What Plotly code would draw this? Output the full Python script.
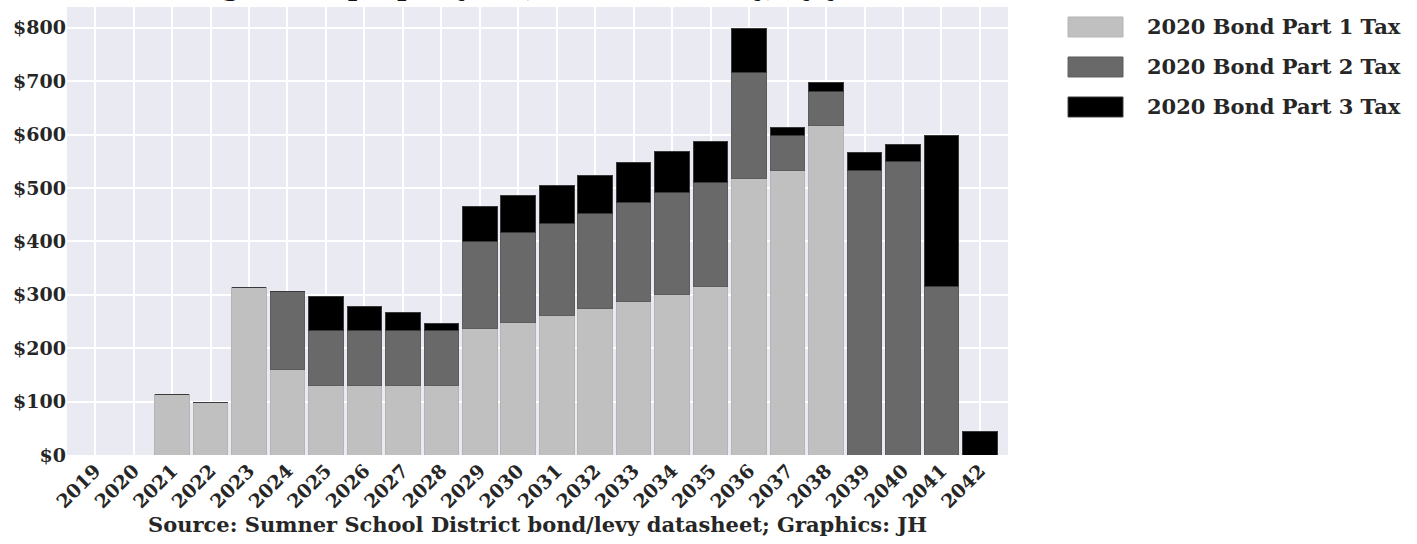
import plotly.graph_objects as go

years = [str(y) for y in range(2019, 2043)]
part1 = [0, 0, 113, 99, 314, 160, 131, 131, 131, 131, 237, 249, 261, 275, 287, 301, 315, 517, 533, 617, 0, 0, 0, 0]
part2 = [0, 0, 0, 0, 0, 147, 102, 102, 102, 102, 163, 167, 173, 178, 186, 190, 195, 200, 65, 64, 533, 550, 315, 0]
part3 = [0, 0, 0, 0, 0, 0, 63, 46, 33, 14, 65, 70, 70, 70, 74, 77, 78, 81, 16, 16, 33, 32, 283, 44]

names = ["2020 Bond Part 1 Tax", "2020 Bond Part 2 Tax", "2020 Bond Part 3 Tax"]
colors = ["#c0c0c0", "#696969", "#000000"]
edges = ["#b4b4b4", "#5c5c5c", "#3a3a3a"]
series = [part1, part2, part3]

title_text = "Avg. home property tax, 2020 bond only, by year"
source_text = "Source: Sumner School District bond/levy datasheet; Graphics: JH"

FONT = "DejaVu Serif"
TXT = "#262626"

fig = go.Figure()
for name, vals, col, ec in zip(names, series, colors, edges):
    fig.add_trace(go.Bar(
        x=years, y=vals, name=name, width=0.9,
        marker=dict(color=col, line=dict(color=ec, width=1)),
        showlegend=False,
    ))

fig.update_layout(
    barmode="stack",
    width=1417, height=544,
    margin=dict(l=67, r=409, t=7, b=89, autoexpand=False),
    paper_bgcolor="white",
    plot_bgcolor="#eaeaf2",
    font=dict(family=FONT, color=TXT, size=19, weight="bold"),
    bargap=0.1,
)
fig.update_xaxes(
    type="category", range=[-0.73, 23.73], automargin=False,
    showgrid=True, gridcolor="white", gridwidth=1.5,
    tickangle=-45, tickfont=dict(size=19, family=FONT, weight="bold", color=TXT),
    ticks="", zeroline=False, showline=False,
    title=dict(text=source_text, font=dict(size=21, family=FONT, weight="bold", color=TXT), standoff=4),
)
fig.update_yaxes(
    range=[0, 839], dtick=100, tickprefix="$", automargin=False,
    showgrid=True, gridcolor="white", gridwidth=1.5,
    tickfont=dict(size=19, family=FONT, weight="bold", color=TXT),
    ticks="", zeroline=False, showline=False,
)

# title (mostly cropped at the top edge of the page, as in the reference)
fig.add_annotation(
    text=title_text, xref="paper", yref="paper", x=0.5, y=1.0065,
    xanchor="center", yanchor="bottom", showarrow=False,
    font=dict(size=26, family=FONT, weight="bold", color="#111111"),
)

# legend drawn to the right of the plot
row_y = [0.9554, 0.8661, 0.7768]
for name, col, ec, yy in zip(names, colors, edges, row_y):
    fig.add_shape(type="rect", xref="paper", yref="paper",
                  x0=1.0638, x1=1.1222, y0=yy - 0.0223, y1=yy + 0.0223,
                  fillcolor=col, line=dict(color=ec, width=1))
    fig.add_annotation(text=name, xref="paper", yref="paper", x=1.1456, y=yy,
                       xanchor="left", yanchor="middle", showarrow=False,
                       font=dict(size=21, family=FONT, weight="bold", color=TXT))

fig.write_html("out.html", config={"displayModeBar": False},
               post_script="document.body.style.margin='0px';")
